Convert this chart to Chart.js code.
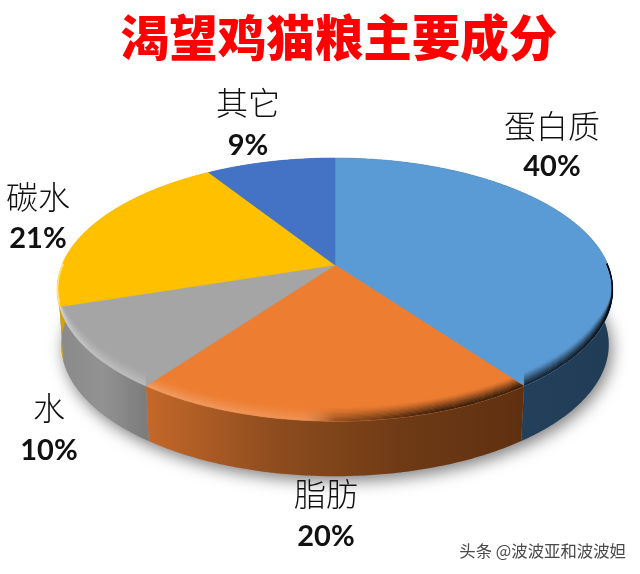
<!DOCTYPE html>
<html>
<head>
<meta charset="utf-8">
<title>渴望鸡猫粮主要成分</title>
<script src="https://cdn.jsdelivr.net/npm/chart.js@4"></script>
<style>
  html, body { margin: 0; padding: 0; background: #fff; }
  canvas { display: block; }
</style>
</head>
<body>
<canvas id="pie" width="640" height="574"></canvas>
<script>
const titleText = '渴望鸡猫粮主要成分';
const categories = ['蛋白质', '脂肪', '水', '碳水', '其它'];
const shares = [40, 20, 10, 21, 9];
const sliceColors = ['#5b9bd5', '#ed7d31', '#a5a5a5', '#ffc000', '#4472c4'];
const watermark = '头条 @波波亚和波波妲';

// where each label sits: [x, name y, percent y]
const labelSpots = [[552, 126, 167], [326, 494, 537], [49, 408, 451], [38, 197, 239], [248, 103, 146]];

// side wall colours, left to right, per slice
const wallStops = [
  ['#284663', '#213c56'],
  ['#c5682a', '#8f4d1e', '#6f3b16', '#5f3010'],
  ['#8a8a8a', '#929292', '#7c7c7c'],
  ['#d8a200', '#c99600'],
  ['#2a4a80', '#2a4a80']
];

// tilted disc: apex sits above the middle of the ellipse because of the perspective
const cx = 335, apexY = 265, scaleX = 273, scaleY = 127, tilt = 0.187;
const depth = 55, lowerShrink = 0.985;

function project(angle) {
  const u = Math.sin(angle), v = -Math.cos(angle);
  const d = 1 - tilt * v;
  return { x: cx + scaleX * u / d, y: apexY + scaleY * v / d, v };
}

function rimPoints(start, end) {
  const n = Math.max(2, Math.ceil((end - start) / 0.01));
  const pts = [];
  for (let i = 0; i <= n; i++) pts.push(project(start + (end - start) * i / n));
  return pts;
}

function lower(p) {
  return { x: cx + (p.x - cx) * lowerShrink, y: p.y + depth };
}

function tracePoly(ctx, pts) {
  ctx.beginPath();
  pts.forEach((p, i) => i ? ctx.lineTo(p.x, p.y) : ctx.moveTo(p.x, p.y));
  ctx.closePath();
}

function drawShadow(ctx) {
  const all = rimPoints(0, Math.PI * 2).map(lower);
  ctx.save();
  ctx.shadowColor = 'rgba(0,0,0,0.5)';
  ctx.shadowBlur = 16;
  ctx.shadowOffsetX = 3;
  ctx.shadowOffsetY = 5;
  ctx.fillStyle = '#999';
  tracePoly(ctx, all);
  ctx.fill();
  ctx.restore();
}

function drawWall(ctx, arc, index) {
  const start = arc.startAngle + Math.PI / 2, end = arc.endAngle + Math.PI / 2;
  const top = rimPoints(start, end);
  const bottom = top.map(lower).reverse();
  const xs = top.map(p => p.x);
  const grad = ctx.createLinearGradient(Math.min(...xs), 0, Math.max(...xs), 0);
  wallStops[index].forEach((c, i, list) => grad.addColorStop(i / (list.length - 1), c));
  ctx.fillStyle = grad;
  tracePoly(ctx, top.concat(bottom));
  ctx.fill();
}

function drawFace(ctx, arc, index) {
  const start = arc.startAngle + Math.PI / 2, end = arc.endAngle + Math.PI / 2;
  const rim = rimPoints(start, end);
  const face = [{ x: cx, y: apexY }].concat(rim);

  ctx.fillStyle = sliceColors[index];
  tracePoly(ctx, face);
  ctx.fill();
  ctx.strokeStyle = sliceColors[index];
  ctx.lineWidth = 0.6;
  ctx.stroke();

  // soft bevel along the front edge, light on the left and dark on the right
  const front = rim.filter(p => p.v > -0.02);
  if (front.length < 2) return;
  ctx.save();
  tracePoly(ctx, face);
  ctx.clip();
  const strips = 12, band = 15;
  ctx.lineWidth = band / strips + 1;
  for (let s = 0; s < strips; s++) {
    const f = s / strips;
    const strength = Math.pow(1 - f, 1.4);
    const light = 0.17 * strength, dark = 0.6 * strength;
    const grad = ctx.createLinearGradient(60, 0, 610, 0);
    grad.addColorStop(0, `rgba(255,255,255,${light})`);
    grad.addColorStop(0.44, `rgba(255,255,255,${light * 0.6})`);
    grad.addColorStop(0.5, `rgba(0,0,0,${dark * 0.4})`);
    grad.addColorStop(0.68, `rgba(0,0,0,${dark})`);
    grad.addColorStop(1, `rgba(0,0,0,${dark})`);
    ctx.strokeStyle = grad;
    ctx.beginPath();
    front.forEach((p, i) => {
      const w = Math.min(1, Math.max(0, (p.v + 0.02) / 0.5));
      const y = p.y - band * f * w + 0.5;
      i ? ctx.lineTo(p.x, y) : ctx.moveTo(p.x, y);
    });
    ctx.stroke();
  }
  ctx.restore();
}

const discPlugin = {
  id: 'disc',
  beforeDatasetsDraw(chart) {
    const ctx = chart.ctx;
    const arcs = chart.getDatasetMeta(0).data;
    drawShadow(ctx);
    arcs.forEach((arc, i) => drawWall(ctx, arc, i));
    arcs.forEach((arc, i) => drawFace(ctx, arc, i));
    return false;
  },
  afterDraw(chart) {
    const ctx = chart.ctx;
    ctx.save();
    ctx.textAlign = 'center';
    ctx.textBaseline = 'middle';
    categories.forEach((name, i) => {
      const [x, nameY, pctY] = labelSpots[i];
      ctx.fillStyle = '#111';
      ctx.font = '300 32px "Noto Sans CJK SC"';
      ctx.fillText(name, x, nameY);
      ctx.fillStyle = '#111';
      ctx.font = 'bold 29px Lato';
      ctx.fillText(shares[i] + '%', x, pctY);
    });
    ctx.textAlign = 'right';
    ctx.font = '16.4px "Noto Sans CJK SC"';
    ctx.fillStyle = '#4a4a4a';
    ctx.shadowColor = 'rgba(255,255,255,0.9)';
    ctx.shadowBlur = 2;
    ctx.fillText(watermark, 626, 551);
    ctx.restore();
  }
};

new Chart(document.getElementById('pie'), {
  type: 'pie',
  data: {
    labels: categories,
    datasets: [{ data: shares, backgroundColor: sliceColors, borderWidth: 0 }]
  },
  options: {
    responsive: false,
    animation: false,
    devicePixelRatio: 1,
    layout: { padding: { left: 38 } },
    plugins: {
      legend: { display: false },
      tooltip: { enabled: false },
      title: {
        display: true,
        text: titleText,
        color: '#ff0000',
        font: { family: '"Noto Sans CJK SC"', size: 48.5, weight: '900' },
        padding: { top: 8, bottom: 10 }
      }
    }
  },
  plugins: [discPlugin]
});
</script>
</body>
</html>
